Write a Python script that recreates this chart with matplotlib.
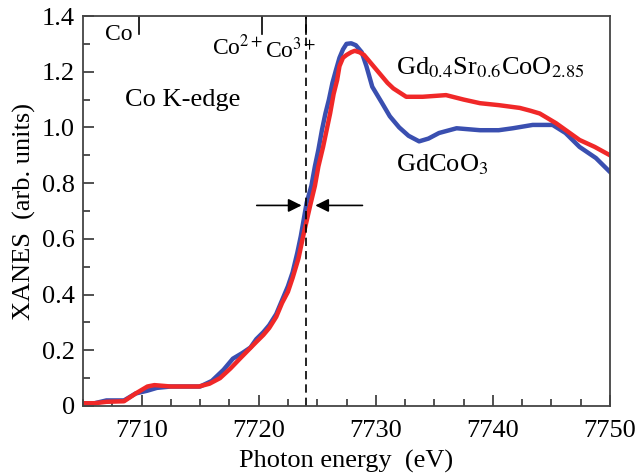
import matplotlib
matplotlib.use("Agg")
import matplotlib.pyplot as plt
from matplotlib.ticker import MultipleLocator, FixedLocator

plt.rcParams['font.family'] = ['Liberation Serif', 'DejaVu Serif']
plt.rcParams['mathtext.fontset'] = 'stix'

# GdCoO3 (blue)
e_blue = [7705, 7706, 7707, 7708.5, 7709.5, 7710.5, 7711.3, 7712.5, 7715, 7716.0,
          7717.0, 7717.8, 7718.6, 7719.3, 7719.8, 7720.4, 7720.9, 7721.5, 7722.0,
          7722.5, 7722.9, 7723.3, 7723.6, 7724.1, 7724.5, 7724.8, 7725.1,
          7725.4, 7725.7, 7726.0, 7726.3, 7726.6, 7726.9, 7727.2, 7727.5, 7727.9,
          7728.3, 7728.8, 7729.2, 7729.7, 7730.5, 7731.2, 7732.0, 7732.8,
          7733.7, 7734.5, 7735.4, 7736.9, 7738.9, 7740.5, 7741.7, 7743.4, 7745.1,
          7746.2, 7747.4, 7748.8, 7750]
x_blue = [0.01, 0.01, 0.02, 0.02, 0.045, 0.055, 0.065, 0.07, 0.07, 0.09,
          0.13, 0.17, 0.19, 0.21, 0.24, 0.265, 0.29, 0.33, 0.38,
          0.43, 0.48, 0.55, 0.61, 0.73, 0.79, 0.86, 0.92,
          0.99, 1.05, 1.10, 1.16, 1.206, 1.25, 1.28, 1.30, 1.302,
          1.295, 1.27, 1.22, 1.146, 1.09, 1.04, 1.0, 0.97,
          0.95, 0.96, 0.98, 0.997, 0.99, 0.99, 0.997, 1.009, 1.009,
          0.98, 0.93, 0.89, 0.84]

# Gd0.4Sr0.6CoO2.85 (red)
e_red = [7705, 7706, 7707, 7708.5, 7709.5, 7710.5, 7711.1, 7712.5, 7714.9, 7715.8,
         7716.7, 7717.6, 7718.4, 7719.1, 7719.8, 7720.4, 7720.9, 7721.5, 7722.0,
         7722.5, 7722.9, 7723.4, 7723.8, 7724.4, 7724.8, 7725.1, 7725.5, 7725.8,
         7726.1, 7726.4, 7726.7, 7726.9, 7727.2, 7727.5, 7727.9, 7728.2, 7728.6,
         7729.0, 7729.6, 7730.3, 7731.0, 7731.5, 7732.6, 7734.0,
         7736.0, 7737.5, 7738.9, 7740.5, 7742.3, 7743.2, 7744.0, 7745.4, 7746.4,
         7747.4, 7748.7, 7750]
x_red = [0.01, 0.01, 0.015, 0.017, 0.045, 0.07, 0.075, 0.07, 0.07, 0.08,
         0.10, 0.135, 0.17, 0.20, 0.23, 0.255, 0.28, 0.32, 0.37,
         0.41, 0.46, 0.53, 0.61, 0.72, 0.79, 0.86, 0.93, 0.99,
         1.05, 1.12, 1.17, 1.22, 1.25, 1.26, 1.27, 1.275, 1.27,
         1.26, 1.23, 1.195, 1.16, 1.14, 1.11, 1.11,
         1.116, 1.10, 1.087, 1.08, 1.07, 1.06, 1.05, 1.015, 0.985,
         0.955, 0.93, 0.90]

edge = 7724.0
co_marks = [7709.75, 7720.3, 7724.0]
co_labels = ['Co', 'Co$^{2+}$', 'Co$^{3+}$']

fig = plt.figure(figsize=(6.39, 4.75), dpi=100)
ax = fig.add_axes([83 / 639, 69 / 475, 527 / 639, 390 / 475])

ax.plot(e_blue, x_blue, color='#3a4fb0', lw=3.2)
ax.plot(e_red, x_red, color='#f02828', lw=3.2)

ax.axvline(edge, color='black', lw=1.2, ls=(0, (5, 3)))

for xm in co_marks:
    ax.plot([xm, xm], [1.4, 1.335], color='black', lw=1.2)
ax.text(7706.9, 1.335, co_labels[0], fontsize=17, ha='left', va='center')
ax.text(7716.0, 1.26, co_labels[1], fontsize=17, ha='left', va='baseline')
ax.text(7720.5, 1.25, co_labels[2], fontsize=17, ha='left', va='baseline')

ax.annotate('', xy=(edge - 0.1, 0.72), xytext=(7719.6, 0.72),
            arrowprops=dict(arrowstyle='-|>', color='black', lw=1.2, mutation_scale=20))
ax.annotate('', xy=(edge + 0.6, 0.72), xytext=(7729.1, 0.72),
            arrowprops=dict(arrowstyle='-|>', color='black', lw=1.2, mutation_scale=20))

ax.text(7708.6, 1.10, 'Co K-edge', fontsize=19, ha='left', va='center')
ax.text(7731.7, 1.215, r'Gd$_{0.4}$Sr$_{0.6}$CoO$_{2.85}$', fontsize=19, ha='left', va='center')
ax.text(7731.7, 0.865, r'GdCoO$_3$', fontsize=19, ha='left', va='center')

ax.set_xlim(7705, 7750)
ax.set_ylim(0, 1.4)
ax.xaxis.set_major_locator(FixedLocator([7710, 7720, 7730, 7740, 7750]))
ax.xaxis.set_minor_locator(MultipleLocator(2.5))
ax.set_yticks([0, 0.2, 0.4, 0.6, 0.8, 1.0, 1.2, 1.4])
ax.set_yticklabels(['0', '0.2', '0.4', '0.6', '0.8', '1.0', '1.2', '1.4'])
ax.yaxis.set_minor_locator(MultipleLocator(0.1))
ax.tick_params(which='both', direction='in', top=False, right=False, labelsize=19, color='#333333')
ax.tick_params(which='major', length=8, width=1.2)
ax.tick_params(which='minor', length=5, width=1.2)
ax.tick_params(axis='x', which='major', pad=10)
ax.tick_params(axis='y', which='major', pad=6)
for s in ax.spines.values():
    s.set_color('#444444')
    s.set_linewidth(1.3)

ax.set_xlabel('Photon energy  (eV)', fontsize=19, labelpad=6)
ax.set_ylabel('XANES  (arb. units)', fontsize=19, labelpad=4)

fig.savefig('out.png', dpi=100)
